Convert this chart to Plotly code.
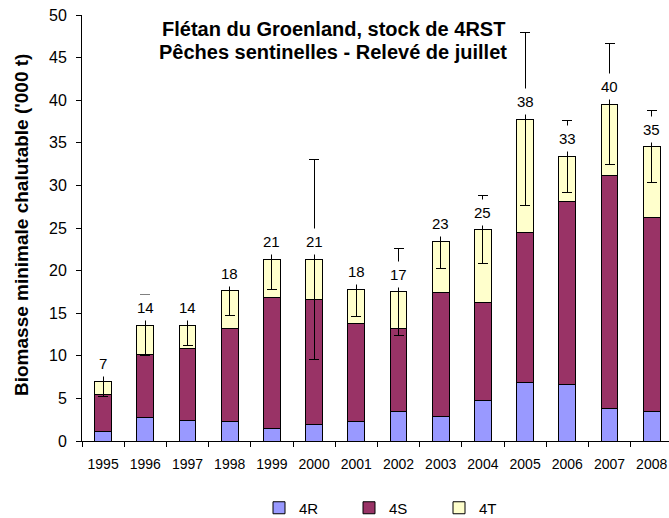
import plotly.graph_objects as go

years = ["1995", "1996", "1997", "1998", "1999", "2000", "2001",
         "2002", "2003", "2004", "2005", "2006", "2007", "2008"]
r4 = [1.10, 2.78, 2.46, 2.31, 1.41, 1.88, 2.31, 3.48, 2.93, 4.81, 6.85, 6.69, 3.80, 3.48]
s4 = [4.38, 7.39, 8.42, 10.91, 15.45, 14.75, 11.54, 9.74, 14.52, 11.50, 17.60, 21.44, 27.42, 22.73]
t4 = [1.52, 3.41, 2.70, 4.42, 4.46, 4.69, 3.95, 4.27, 6.02, 8.49, 13.34, 5.28, 8.33, 8.34]
err = [1.80, 3.60, 2.39, 2.89, 3.50, 11.72, 3.17, 5.08, 3.20, 4.00, 10.20, 4.26, 7.10, 4.23]

totals = [a + b + c for a, b, c in zip(r4, s4, t4)]
labels = [str(int(round(t))) for t in totals]

FONT = "Liberation Sans, Arial, sans-serif"
line = dict(color="black", width=1)

W, H = 669, 518
L, R, T, B = 82, 0, 15, 518 - 441
pw, ph = W - L - R, H - T - B


def px_x(p):
    return (p - L) / pw


def px_y(p):
    return 1 - (p - T) / ph


fig = go.Figure()
fig.add_trace(go.Bar(name="4R", x=years, y=r4, marker=dict(color="#9999FF", line=line)))
fig.add_trace(go.Bar(name="4S", x=years, y=s4, marker=dict(color="#993366", line=line)))
fig.add_trace(go.Bar(name="4T", x=years, y=t4, marker=dict(color="#FFFFCC", line=line),
                     error_y=dict(type="data", array=err, symmetric=True,
                                  color="black", thickness=1, width=5)))

for i, (tot, lab) in enumerate(zip(totals, labels)):
    fig.add_annotation(x=i, y=tot, text=lab, showarrow=False, xref="x", yref="y",
                       xanchor="center", yanchor="middle", yshift=17.5,
                       bgcolor="white", borderpad=4,
                       font=dict(family=FONT, size=15, color="black"))

fig.add_annotation(x=px_x(333), y=px_y(29), xref="paper", yref="paper",
                   xanchor="center", yanchor="middle",
                   text="<b>Flétan du Groenland, stock de 4RST</b>",
                   showarrow=False, font=dict(family=FONT, size=20, color="black"))
fig.add_annotation(x=px_x(333), y=px_y(52), xref="paper", yref="paper",
                   xanchor="center", yanchor="middle",
                   text="<b>Pêches sentinelles - Relevé de juillet</b>",
                   showarrow=False, font=dict(family=FONT, size=20, color="black"))

fig.add_annotation(x=px_x(21), y=px_y(225), xref="paper", yref="paper",
                   xanchor="center", yanchor="middle",
                   text="<b>Biomasse minimale chalutable ('000 t)</b>", textangle=-90,
                   showarrow=False, font=dict(family=FONT, size=19, color="black"))

fig.update_layout(
    width=W, height=H,
    margin=dict(l=L, r=R, t=T, b=B, pad=0, autoexpand=False),
    barmode="stack", bargap=0.6,
    plot_bgcolor="white", paper_bgcolor="white",
    font=dict(family=FONT, color="black"),
    hovermode=False,
    showlegend=True,
    legend=dict(orientation="h", x=(278 - 19) / W, xanchor="left", xref="container",
                y=1 - 508 / H, yanchor="middle", yref="container",
                traceorder="normal", font=dict(size=15, family=FONT),
                entrywidth=45, bgcolor="rgba(0,0,0,0)"),
)
fig.update_xaxes(type="category", range=[-0.5, 13.41], showline=True, linecolor="black",
                 linewidth=1, ticks="outside", tickson="boundaries", ticklen=5,
                 tickcolor="black", showgrid=False, automargin=False,
                 ticklabelstandoff=10, tickfont=dict(size=14, family=FONT))
fig.update_yaxes(range=[0, 50], dtick=5, showline=True, linecolor="black", linewidth=1,
                 ticks="outside", ticklen=5, tickcolor="black", showgrid=False,
                 zeroline=False, automargin=False, ticklabelstandoff=6,
                 tickfont=dict(size=16, family=FONT))

fig.write_html("out.html", config={"displayModeBar": False, "staticPlot": True},
               post_script="document.body.style.margin='0';document.body.style.overflow='hidden';")
